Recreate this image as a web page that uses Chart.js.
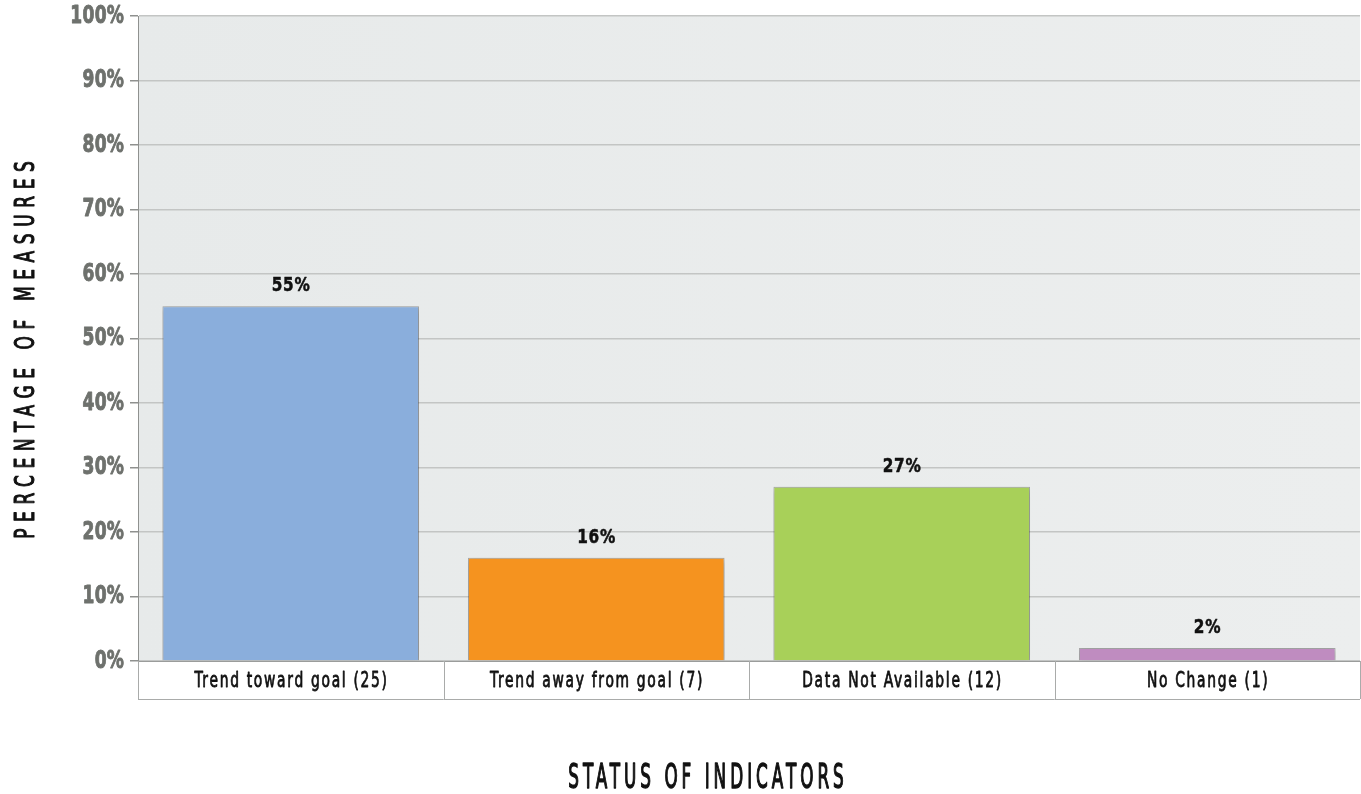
<!DOCTYPE html>
<html>
<head>
<meta charset="utf-8">
<script src="https://cdn.jsdelivr.net/npm/chart.js@4"></script>
<style>
  html, body { margin: 0; padding: 0; background: #fff; }
  #wrap { width: 1361px; height: 794px; }
</style>
</head>
<body>
<div id="wrap"><canvas id="chart"></canvas></div>
<script>
var categories = ["Trend toward goal (25)", "Trend away from goal (7)", "Data Not Available (12)", "No Change (1)"];
var percentages = [55, 16, 27, 2];
var yTicks = [0, 10, 20, 30, 40, 50, 60, 70, 80, 90, 100];

var barColors = ["#8aaedc", "#f5931f", "#a8d059", "#bf8cc0"];
var narrow = "'DejaVu Sans Condensed', 'DejaVu Sans', sans-serif";

// squeezed text, to get close to the tall condensed face of the original
function drawText(ctx, text, x, y, size, weight, sx, spacing, align, stroke) {
  ctx.save();
  ctx.translate(x, y);
  ctx.scale(sx, 1);
  ctx.font = weight + " " + size + "px " + narrow;
  ctx.letterSpacing = (spacing / sx) + "px";
  ctx.textBaseline = "middle";
  let w = ctx.measureText(text).width - spacing / sx;
  let start = align === "right" ? -w : (align === "center" ? -w / 2 : 0);
  ctx.textAlign = "left";
  ctx.fillText(text, start, 0);
  if (stroke) {
    ctx.strokeStyle = ctx.fillStyle;
    ctx.lineWidth = stroke;
    ctx.lineJoin = "round";
    ctx.strokeText(text, start, 0);
  }
  ctx.restore();
}

// plot background
var bgPlugin = {
  id: "bg",
  beforeDraw(chart) {
    const a = chart.chartArea, ctx = chart.ctx;
    ctx.save();
    const g = ctx.createLinearGradient(a.left, 0, a.right, 0);
    g.addColorStop(0, "#e7eaea");
    g.addColorStop(1, "#eceeee");
    ctx.fillStyle = g;
    ctx.fillRect(a.left, a.top, a.right - a.left, a.bottom - a.top);
    ctx.restore();
  }
};

// soft shadow under bars
var shadowPlugin = {
  id: "shadow",
  beforeDatasetsDraw(chart) {
    const ctx = chart.ctx;
    ctx.save();
    ctx.shadowColor = "rgba(0,0,0,0.25)";
    ctx.shadowBlur = 6;
    ctx.shadowOffsetX = 1;
    ctx.shadowOffsetY = 2;
  },
  afterDatasetsDraw(chart) {
    chart.ctx.restore();
  }
};

// value labels, tick labels, category table and axis titles
var textPlugin = {
  id: "texts",
  afterDraw(chart) {
    const ctx = chart.ctx, a = chart.chartArea, x = chart.scales.x, y = chart.scales.y;
    const meta = chart.getDatasetMeta(0);
    ctx.save();
    ctx.fillStyle = "#111";
    meta.data.forEach((bar, i) => {
      drawText(ctx, percentages[i] + "%", bar.x, bar.y - 20, 20, "bold", 0.85, 0.8, "center", 0.5);
    });

    ctx.fillStyle = "#6e716d";
    yTicks.forEach(v => {
      drawText(ctx, v + "%", 124, y.getPixelForValue(v), 25, "bold", 0.76, 0.3, "right", 0.9);
    });

    // table of category cells
    const h = 38;
    ctx.strokeStyle = "#a9abaa";
    ctx.lineWidth = 1;
    ctx.beginPath();
    ctx.moveTo(a.left, a.bottom + h + 0.5);
    ctx.lineTo(a.right, a.bottom + h + 0.5);
    const half = (x.getPixelForValue(1) - x.getPixelForValue(0)) / 2;
    for (let i = 0; i <= categories.length; i++) {
      const px = Math.round(x.getPixelForValue(i) - half) + 0.5;
      ctx.moveTo(px, a.bottom);
      ctx.lineTo(px, a.bottom + h);
    }
    ctx.stroke();

    ctx.fillStyle = "#111";
    categories.forEach((c, i) => {
      drawText(ctx, c, x.getPixelForValue(i), a.bottom + 20, 22, "normal", 0.7, 1.7, "center", 0.8);
    });

    // axis titles
    drawText(ctx, "STATUS OF INDICATORS", 706, 779, 34, "normal", 0.55, 4, "center", 1.4);
    ctx.translate(27, 350);
    ctx.rotate(-Math.PI / 2);
    drawText(ctx, "PERCENTAGE OF MEASURES", 0, 0, 27, "normal", 0.7, 6.6, "center", 1.1);
    ctx.restore();
  }
};

new Chart(document.getElementById("chart"), {
  type: "bar",
  data: {
    labels: categories,
    datasets: [{
      data: percentages,
      backgroundColor: barColors,
      borderColor: "rgba(90,90,90,0.45)",
      borderWidth: 1,
      categoryPercentage: 1,
      barPercentage: 0.84
    }]
  },
  options: {
    responsive: true,
    maintainAspectRatio: false,
    animation: false,
    devicePixelRatio: 1,
    layout: { padding: { top: 16, right: 1, left: 0, bottom: 0 } },
    plugins: {
      legend: { display: false },
      tooltip: { enabled: false }
    },
    scales: {
      x: {
        offset: true,
        grid: { display: false },
        border: { display: true, color: "#9a9c9b", width: 1 },
        ticks: { display: false },
        afterFit(scale) { scale.height = 133; }
      },
      y: {
        min: 0,
        max: 100,
        afterBuildTicks(scale) { scale.ticks = yTicks.map(v => ({ value: v })); },
        grid: { color: "#c3c5c4", lineWidth: 1.5, tickLength: 8, tickColor: "#8f918f" },
        border: { display: true, color: "#8f918f", width: 1 },
        ticks: { display: false },
        afterFit(scale) { scale.width = 138; }
      }
    }
  },
  plugins: [bgPlugin, shadowPlugin, textPlugin]
});
</script>
</body>
</html>
